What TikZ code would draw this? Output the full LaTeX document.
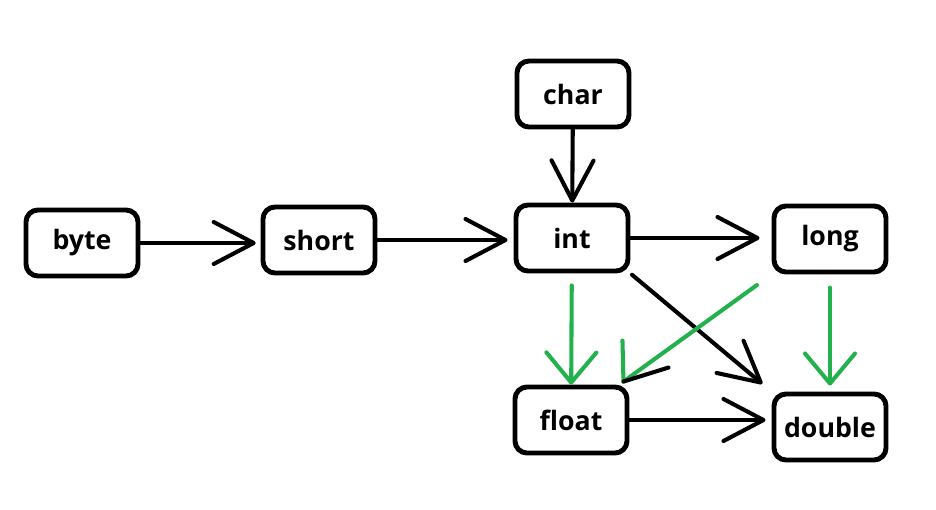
\documentclass[tikz,border=0pt]{standalone}
\usepackage{fontspec}
\setmainfont{Open Sans}
\usetikzlibrary{arrows.meta, calc}
\definecolor{paintgreen}{RGB}{34,177,76}
\tikzset{%
    box/.style={draw, line width=3.5pt, rounded corners=0.3cm, minimum width=2.8cm, minimum height=1.65cm, inner sep=0pt, font=\fontsize{19}{22}\selectfont\bfseries},
    ln/.style={line width=2.9pt, line cap=round},
    arr/.style={ln, -{Straight Barb[round, length=1cm, width=1.05cm]}},
    gln/.style={ln, draw=paintgreen},
    garr/.style={gln, -{Straight Barb[round, length=0.75cm, width=1.25cm]}},
}
\begin{document}
\begin{tikzpicture}[x=0.025cm, y=-0.025cm]
    \useasboundingbox (0,0) rectangle (936,509);
    \node [box] (byte) at (82,243) {byte};
    \node [box] (short) at (319,240) {short};
    \node [box] (int) at (572,238) {int};
    \node [box] (char) at (573,94) {char};
    \node [box] (long) at (830,239) {long};
    \node [box] (float) at (571,420) {float};
    \node [box] (double) at (830,427) {double};
    \coordinate (ftip) at ($(float.north east)+(-6,-3)$);
    % black arrows
    \draw [arr, shorten >=0.12cm] (byte) -- (byte -| short.west);
    \draw [arr, shorten >=0.15cm] (short) -- (short -| int.west);
    \draw [arr] (char) -- (int);
    \draw [arr, shorten >=0.3cm] (int) -- (int -| long.west);
    \draw [arr, shorten <=0.05cm, shorten >=0.3cm] (int.south east) -- (double.north west);
    \draw [arr, shorten >=0.15cm] (float) -- (float -| double.west);
    % green arrows
    \draw [garr, shorten <=0.3cm] (int) -- (float);
    \draw [garr, shorten <=0.33cm, shorten >=0.15cm] (long) -- (double);
    \draw [gln, shorten <=0.45cm] (long.south west) -- (ftip);
    \draw [gln] (ftip) -- ++(-1,-41);
    \draw [ln] (ftip) -- ++(45,-14);
\end{tikzpicture}
\end{document}
